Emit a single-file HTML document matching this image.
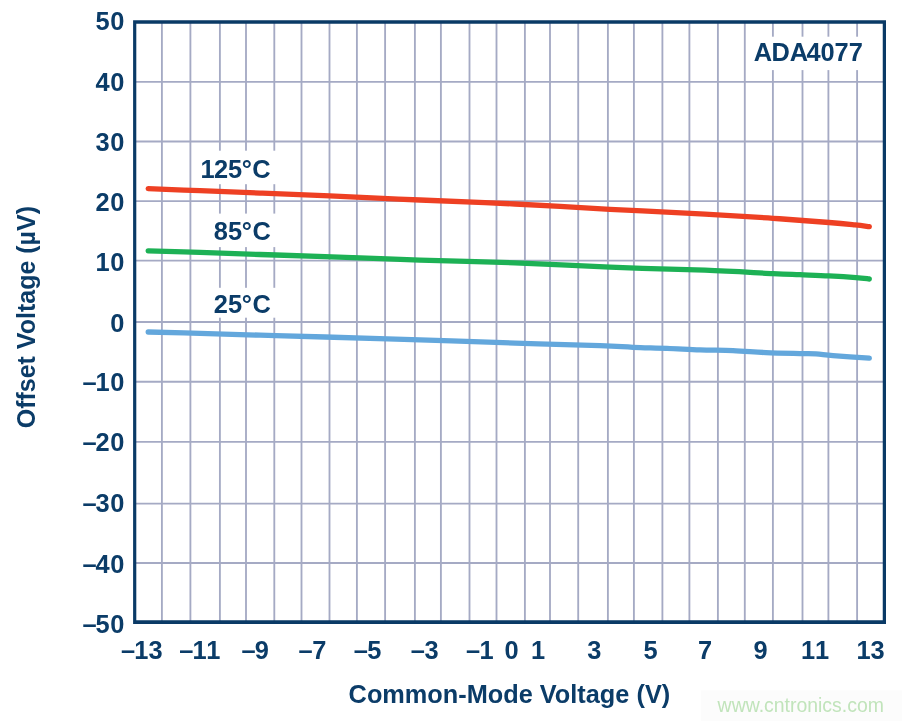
<!DOCTYPE html>
<html><head><meta charset="utf-8"><title>chart</title><style>html,body{margin:0;padding:0;background:#fff}svg{display:block;will-change:transform}text{font-family:"Liberation Sans",sans-serif;font-weight:bold;fill:#0b3c68}</style></head><body>
<svg width="902" height="721" viewBox="0 0 902 721">
<rect width="902" height="721" fill="#fff"/>
<rect x="701" y="690.5" width="201" height="31" fill="#fcfcfc"/>
<g stroke="#a5aac4" stroke-width="1.85">
<line x1="161.9" y1="22.0" x2="161.9" y2="621.7"/>
<line x1="190.4" y1="22.0" x2="190.4" y2="621.7"/>
<line x1="219.9" y1="22.0" x2="219.9" y2="621.7"/>
<line x1="246.0" y1="22.0" x2="246.0" y2="621.7"/>
<line x1="274.3" y1="22.0" x2="274.3" y2="621.7"/>
<line x1="301.5" y1="22.0" x2="301.5" y2="621.7"/>
<line x1="329.5" y1="22.0" x2="329.5" y2="621.7"/>
<line x1="356.9" y1="22.0" x2="356.9" y2="621.7"/>
<line x1="385.1" y1="22.0" x2="385.1" y2="621.7"/>
<line x1="414.9" y1="22.0" x2="414.9" y2="621.7"/>
<line x1="440.9" y1="22.0" x2="440.9" y2="621.7"/>
<line x1="469.5" y1="22.0" x2="469.5" y2="621.7"/>
<line x1="496.5" y1="22.0" x2="496.5" y2="621.7"/>
<line x1="524.9" y1="22.0" x2="524.9" y2="621.7"/>
<line x1="550.0" y1="22.0" x2="550.0" y2="621.7"/>
<line x1="578.2" y1="22.0" x2="578.2" y2="621.7"/>
<line x1="607.9" y1="22.0" x2="607.9" y2="621.7"/>
<line x1="633.9" y1="22.0" x2="633.9" y2="621.7"/>
<line x1="662.4" y1="22.0" x2="662.4" y2="621.7"/>
<line x1="689.4" y1="22.0" x2="689.4" y2="621.7"/>
<line x1="717.9" y1="22.0" x2="717.9" y2="621.7"/>
<line x1="744.8" y1="22.0" x2="744.8" y2="621.7"/>
<line x1="772.9" y1="22.0" x2="772.9" y2="621.7"/>
<line x1="802.5" y1="22.0" x2="802.5" y2="621.7"/>
<line x1="828.4" y1="22.0" x2="828.4" y2="621.7"/>
<line x1="857.1" y1="22.0" x2="857.1" y2="621.7"/>
<line x1="134.7" y1="81.8" x2="884.4" y2="81.8"/>
<line x1="134.7" y1="141.5" x2="884.4" y2="141.5"/>
<line x1="134.7" y1="201.05" x2="884.4" y2="201.05"/>
<line x1="134.7" y1="260.6" x2="884.4" y2="260.6"/>
<line x1="134.7" y1="322.0" x2="884.4" y2="322.0"/>
<line x1="134.7" y1="381.7" x2="884.4" y2="381.7"/>
<line x1="134.7" y1="441.8" x2="884.4" y2="441.8"/>
<line x1="134.7" y1="503.65" x2="884.4" y2="503.65"/>
<line x1="134.7" y1="563.0" x2="884.4" y2="563.0"/>
</g>
<g fill="#fff">
<rect x="751" y="36.7" width="118" height="33.4"/>
<rect x="199" y="150.7" width="87" height="33.5"/>
<rect x="210" y="213.6" width="76" height="33.5"/>
<rect x="210" y="287.8" width="76" height="29.9"/>
</g>
<path fill="#0a3a66" d="M133.1,20.25 H886 V623.95 H133.1 Z M136.3,23.8 V620.35 H882.75 V23.8 Z" fill-rule="evenodd"/>
<path d="M148.2,188.7 C156.8,189.03 181.4,189.97 200.0,190.70 C218.6,191.43 238.4,192.23 260.0,193.10 C281.6,193.97 303.0,194.75 329.7,195.90 C356.4,197.05 389.1,198.65 420.0,200.00 C450.9,201.35 483.3,202.45 515.0,204.00 C546.7,205.55 578.3,207.62 610.0,209.30 C641.7,210.98 677.8,212.60 705.0,214.10 C732.2,215.60 752.3,216.90 773.0,218.30 C793.7,219.70 815.3,221.40 829.0,222.50 C842.7,223.60 848.3,224.22 855.0,224.90 C861.7,225.58 866.9,226.32 869.3,226.60" fill="none" stroke="#ee4023" stroke-width="5.3" stroke-linecap="round" stroke-linejoin="round"/>
<path d="M148.2,250.8 C156.8,251.07 181.4,251.78 200.0,252.40 C218.6,253.02 239.2,253.80 260.0,254.50 C280.8,255.20 298.3,255.67 325.0,256.60 C351.7,257.53 388.3,259.07 420.0,260.10 C451.7,261.13 483.3,261.62 515.0,262.80 C546.7,263.98 578.3,265.97 610.0,267.20 C641.7,268.43 677.8,269.13 705.0,270.20 C732.2,271.27 757.2,272.85 773.0,273.60 C788.8,274.35 790.7,274.32 800.0,274.70 C809.3,275.08 819.7,275.42 829.0,275.90 C838.3,276.38 849.3,277.08 856.0,277.60 C862.7,278.12 867.1,278.77 869.3,279.00" fill="none" stroke="#1db155" stroke-width="5.3" stroke-linecap="round" stroke-linejoin="round"/>
<path d="M148.2,332.0 C156.8,332.23 181.4,332.87 200.0,333.40 C218.6,333.93 239.2,334.60 260.0,335.20 C280.8,335.80 298.3,336.23 325.0,337.00 C351.7,337.77 388.3,338.78 420.0,339.80 C451.7,340.82 485.0,342.13 515.0,343.10 C545.0,344.07 580.3,344.90 600.0,345.60 C619.7,346.30 621.8,346.85 633.0,347.30 C644.2,347.75 655.8,347.87 667.0,348.30 C678.2,348.73 689.0,349.52 700.0,349.90 C711.0,350.28 722.0,350.15 733.0,350.60 C744.0,351.05 754.8,352.10 766.0,352.60 C777.2,353.10 791.7,353.38 800.0,353.60 C808.3,353.82 810.5,353.57 816.0,353.90 C821.5,354.23 824.1,354.88 833.0,355.60 C841.9,356.32 863.2,357.77 869.3,358.20" fill="none" stroke="#63a7dc" stroke-width="5.3" stroke-linecap="round" stroke-linejoin="round"/>
<g font-size="25.4">
<text transform="translate(0,29.70) scale(1,1.04)" x="110.17 95.49" y="0">05</text>
<text transform="translate(0,90.55) scale(1,1.04)" x="110.17 95.49" y="0">04</text>
<text transform="translate(0,151.15) scale(1,1.04)" x="110.17 95.49" y="0">03</text>
<text transform="translate(0,210.95) scale(1,1.04)" x="110.17 95.49" y="0">02</text>
<text transform="translate(0,271.45) scale(1,1.04)" x="95.49 110.17" y="0">10</text>
<text transform="translate(0,331.55) scale(1,1.04)" x="110.17" y="0">0</text>
<text transform="translate(0,390.95) scale(1,1.04)" x="82.6 95.49 110.17" y="0">–10</text>
<text transform="translate(0,450.75) scale(1,1.04)" x="82.6 95.49 110.17" y="0">–20</text>
<text transform="translate(0,512.35) scale(1,1.04)" x="82.6 95.49 110.17" y="0">–30</text>
<text transform="translate(0,572.55) scale(1,1.04)" x="82.6 95.49 110.17" y="0">–40</text>
<text transform="translate(0,632.55) scale(1,1.04)" x="82.6 95.49 110.17" y="0">–50</text>
<text transform="translate(0,658.90) scale(1,1.04)" x="120.95 134.30 148.40" y="0">–13</text>
<text transform="translate(0,658.90) scale(1,1.04)" x="179.20 192.60 206.20" y="0">–11</text>
<text transform="translate(0,658.90) scale(1,1.04)" x="241.50 254.82" y="0">–9</text>
<text transform="translate(0,658.90) scale(1,1.04)" x="298.40 312.19" y="0">–7</text>
<text transform="translate(0,658.90) scale(1,1.04)" x="353.80 367.18" y="0">–5</text>
<text transform="translate(0,658.90) scale(1,1.04)" x="410.70 424.39" y="0">–3</text>
<text transform="translate(0,658.90) scale(1,1.04)" x="465.90 479.60" y="0">–1</text>
<text transform="translate(0,658.90) scale(1,1.04)" x="504.51" y="0">0</text>
<text transform="translate(0,658.90) scale(1,1.04)" x="530.90" y="0">1</text>
<text transform="translate(0,658.90) scale(1,1.04)" x="587.25" y="0">3</text>
<text transform="translate(0,658.90) scale(1,1.04)" x="643.55" y="0">5</text>
<text transform="translate(0,658.90) scale(1,1.04)" x="698.10" y="0">7</text>
<text transform="translate(0,658.90) scale(1,1.04)" x="753.57" y="0">9</text>
<text transform="translate(0,658.90) scale(1,1.04)" x="801.10 814.90" y="0">11</text>
<text transform="translate(0,658.90) scale(1,1.04)" x="856.40 870.59" y="0">13</text>
<text transform="translate(0,61.20) scale(1,1.04)" x="753.67 771.60 789.67 806.40 820.50 834.60 848.70" y="0">ADA4077</text>
<text transform="translate(0,177.90) scale(1,1.04)" x="200.50 214.12 228.12 241.88 252.35" y="0">125°C</text>
<text transform="translate(0,239.90) scale(1,1.04)" x="213.69 228.12 241.88 252.55" y="0">85°C</text>
<text transform="translate(0,312.90) scale(1,1.04)" x="213.72 228.12 241.88 252.55" y="0">25°C</text>
<text transform="translate(348.6,702.8) scale(1,1.04)" x="0" y="0" textLength="321.6" lengthAdjust="spacingAndGlyphs">Common-Mode Voltage (V)</text>
<text transform="translate(34.6,428.3) rotate(-90) scale(1,1.04)" x="0" y="0" textLength="222.3" lengthAdjust="spacingAndGlyphs">Offset Voltage (µV)</text>
</g>
<text x="717.6" y="712.4" font-size="19.45" style="font-weight:normal;fill:#c1e4bb">www.cntronics.com</text>
</svg></body></html>
